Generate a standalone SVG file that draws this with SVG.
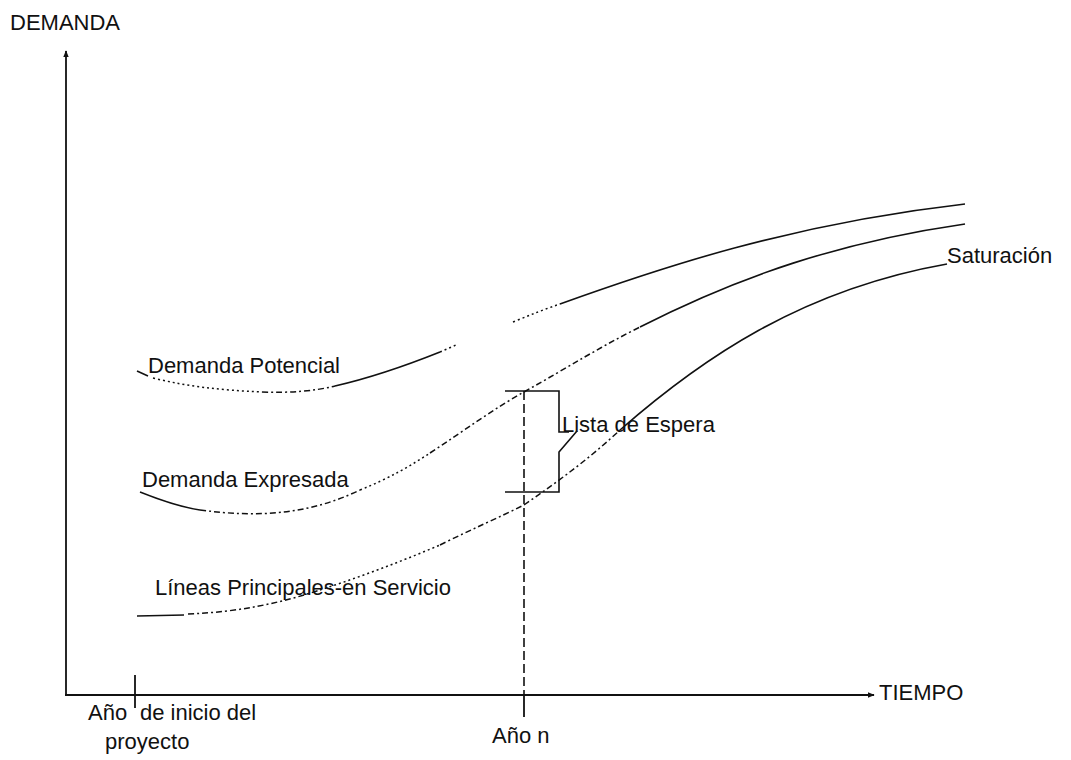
<svg xmlns="http://www.w3.org/2000/svg" width="1071" height="760" viewBox="0 0 1071 760">
  <style>
    text { font-family: "Liberation Sans", Arial, sans-serif; font-size: 22px; fill: #111; }
    .axis { stroke: #111; stroke-width: 1.8; fill: none; }
    .curve { stroke: #111; stroke-width: 1.6; fill: none; }
    .dot { stroke: #111; stroke-width: 1.5; fill: none; stroke-dasharray: 2 3; }
    .dashdot { stroke: #111; stroke-width: 1.5; fill: none; stroke-dasharray: 6 3 2 3; }
    .guide { stroke: #111; stroke-width: 1.6; fill: none; stroke-dasharray: 9 4; }
  </style>
  <defs>
    <marker id="arrow" viewBox="0 0 10 10" refX="9" refY="5" markerWidth="7" markerHeight="7" orient="auto" markerUnits="userSpaceOnUse">
      <path d="M0,1 L10,5 L0,9 Z" fill="#111"/>
    </marker>
  </defs>
  <rect width="1071" height="760" fill="#fff"/>

  <!-- axes -->
  <g id="axes">
    <path class="axis" d="M66,695 V51" marker-end="url(#arrow)"/>
    <path class="axis" d="M65,695 H874" marker-end="url(#arrow)"/>
    <path class="axis" d="M135,675 V708"/>
    <text id="label-demanda" x="10" y="30" font-size="21">DEMANDA</text>
    <text id="label-tiempo" x="879" y="700" font-size="21">TIEMPO</text>
  </g>

  <!-- curves and guide lines -->
  <g id="connectors">
    <!-- Demanda Potencial -->
    <path class="curve" d="M137,371 L148,376"/>
    <path class="dot" d="M153,378 C190,387 220,390 262,392"/>
    <path class="dashdot" d="M262,392 C290,393 315,391 335,386"/>
    <path class="curve" d="M335,386 C370,378 405,366 440,352"/>
    <path class="dot" d="M440,352 L456,345"/>
    <path class="dot" d="M513,322 C530,315 545,309 560,304"/>
    <path class="curve" d="M560,304 C660,268 790,224 965,204"/>

    <!-- Demanda Expresada -->
    <path class="curve" d="M140,492 C160,500 180,507 200,510"/>
    <path class="dashdot" d="M200,510 C260,518 310,514 360,490"/>
    <path class="dot" d="M360,490 C390,478 410,466 430,453"/>
    <path class="dashdot" d="M430,453 C465,430 495,408 524,392"/>
    <path class="dashdot" d="M524,392 C570,366 600,347 640,327"/>
    <path class="curve" d="M640,327 C740,276 840,242 965,224"/>

    <!-- Lineas Principales en Servicio -->
    <path class="curve" d="M137,616 L184,615"/>
    <path class="dashdot" d="M188,614 C240,612 280,603 320,590"/>
    <path class="dot" d="M320,590 C360,577 400,562 440,545"/>
    <path class="dashdot" d="M440,545 C470,530 500,517 524,505"/>
    <path class="dashdot" d="M524,505 C560,480 590,458 620,430"/>
    <path class="curve" d="M620,430 C700,360 800,290 947,264"/>

    <!-- Año n guide -->
    <path class="guide" d="M524,391 V695"/>
    <path class="axis" d="M524,695 V717"/>

    <!-- Lista de Espera bracket -->
    <path class="curve" stroke-width="1.8" d="M505,391 H559 V432 H569 M577,431 L559,452 V492 H505"/>
  </g>

  <!-- labels -->
  <g id="node-potencial"><text x="148" y="373">Demanda Potencial</text></g>
  <g id="node-expresada"><text x="142" y="487">Demanda Expresada</text></g>
  <g id="node-lineas"><text x="155" y="595">Líneas Principales-en Servicio</text></g>
  <g id="node-saturacion"><text x="947" y="263">Saturación</text></g>
  <g id="node-lista"><text x="562" y="432">Lista de Espera</text></g>
  <g id="node-inicio">
    <text x="88" y="720">Año</text>
    <text x="140" y="720">de inicio del</text>
    <text x="105" y="749">proyecto</text>
  </g>
  <g id="node-ano-n"><text x="492" y="743">Año  n</text></g>
</svg>
